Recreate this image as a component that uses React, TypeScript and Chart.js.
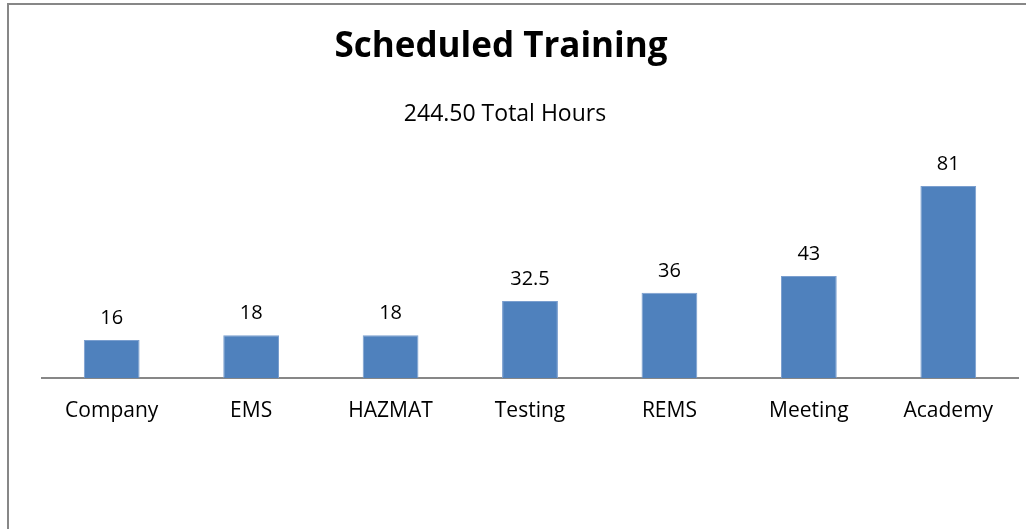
import React, { useEffect, useRef } from "react";
import { Chart, registerables } from "chart.js";

Chart.register(...registerables);

const categories = ["Company", "EMS", "HAZMAT", "Testing", "REMS", "Meeting", "Academy"];
const hours = [16, 18, 18, 32.5, 36, 43, 81];
const titleText = "Scheduled Training";
const subtitleText = "244.50 Total Hours";

const FONT = "'Open Sans', Lato, sans-serif";

const decorPlugin = {
  id: "decor",
  beforeDraw(chart: any) {
    const ctx = chart.ctx;
    ctx.save();
    ctx.fillStyle = "#ffffff";
    ctx.fillRect(0, 0, chart.width, chart.height);
    ctx.strokeStyle = "#878787";
    ctx.lineWidth = 2;
    ctx.beginPath();
    ctx.moveTo(8, chart.height + 5);
    ctx.lineTo(8, 4);
    ctx.lineTo(chart.width + 5, 4);
    ctx.stroke();
    ctx.fillStyle = "#000000";
    ctx.textAlign = "center";
    ctx.textBaseline = "alphabetic";
    ctx.font = `bold 35px ${FONT}`;
    ctx.fillText(titleText, 501, 57);
    ctx.font = `23px ${FONT}`;
    ctx.fillText(subtitleText, 505, 121);
    ctx.restore();
  },
  afterDatasetsDraw(chart: any) {
    const ctx = chart.ctx;
    const meta = chart.getDatasetMeta(0);
    ctx.save();
    ctx.fillStyle = "#000000";
    ctx.textAlign = "center";
    ctx.textBaseline = "alphabetic";
    ctx.font = `20px ${FONT}`;
    meta.data.forEach((bar: any, i: number) => {
      ctx.fillText(String(hours[i]), bar.x, bar.y - 16);
    });
    ctx.restore();
  },
};

export default function App() {
  const ref = useRef<HTMLCanvasElement>(null);
  useEffect(() => {
    if (!ref.current) return;
    const chart = new Chart(ref.current, {
      type: "bar",
      data: {
        labels: categories,
        datasets: [
          {
            data: hours,
            backgroundColor: "#4F81BD",
            borderColor: "#7B9FCF",
            borderWidth: 1,
            barPercentage: 0.4,
            categoryPercentage: 1,
          },
        ],
      },
      options: {
        animation: false,
        responsive: false,
        maintainAspectRatio: false,
        layout: { padding: { left: 42, right: 8, top: 141, bottom: 0 } },
        plugins: {
          legend: { display: false },
          title: { display: false },
          tooltip: { enabled: false },
        },
        scales: {
          x: {
            grid: { display: false, drawTicks: false },
            border: { display: true, color: "#878787", width: 2 },
            ticks: { color: "#000000", font: { family: FONT, size: 21 }, padding: 20, maxRotation: 0, autoSkip: false },
            afterFit(scale: any) {
              scale.height = 151;
            },
          },
          y: {
            display: false,
            min: 0,
            max: 100,
          },
        },
      },
      plugins: [decorPlugin],
    });
    return () => chart.destroy();
  }, []);
  return (
    <canvas
      ref={ref}
      width={1026}
      height={529}
      style={{ position: "absolute", left: 0, top: 0, display: "block" }}
    />
  );
}
